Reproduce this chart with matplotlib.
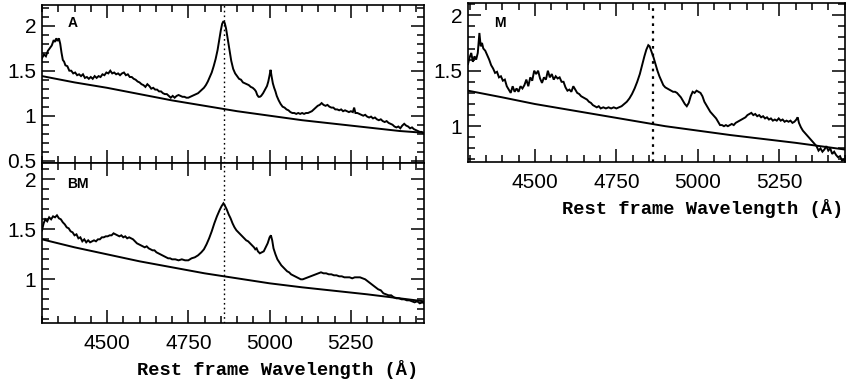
import matplotlib
matplotlib.use("Agg")
import matplotlib.pyplot as plt
from matplotlib.ticker import MultipleLocator

# ---------------- data ----------------
A_wl = [4300, 4306, 4312, 4318, 4324, 4330, 4336, 4340, 4344, 4348, 4352, 4356, 4360, 4364, 4368, 4372,
        4378, 4384, 4390, 4396, 4402, 4408, 4414, 4420, 4426, 4432, 4438, 4444, 4450, 4456, 4462, 4468,
        4474, 4480, 4486, 4492, 4498, 4504, 4510, 4516, 4522, 4528, 4534, 4540, 4546, 4552, 4558, 4564,
        4570, 4576, 4582, 4588, 4594, 4600, 4606, 4612, 4618, 4624, 4630, 4636, 4642, 4648, 4654, 4660,
        4666, 4672, 4678, 4684, 4690, 4696, 4702, 4708, 4714, 4720, 4726, 4732, 4738, 4744, 4750, 4756,
        4762, 4768, 4774, 4780, 4786, 4792, 4798, 4804, 4810, 4816, 4822, 4828, 4834, 4840, 4846, 4850,
        4854, 4858, 4862, 4866, 4870, 4874, 4878, 4882, 4888, 4894, 4900, 4906, 4912, 4918, 4924, 4930,
        4936, 4942, 4948, 4954, 4958, 4962, 4966, 4970, 4974, 4980, 4986, 4992, 4996, 5000, 5003, 5006,
        5010, 5014, 5018, 5022, 5028, 5034, 5040, 5046, 5052, 5058, 5064, 5070, 5076, 5082, 5088, 5094,
        5100, 5106, 5112, 5118, 5124, 5130, 5136, 5142, 5148, 5154, 5160, 5166, 5172, 5178, 5184, 5190,
        5196, 5202, 5208, 5214, 5220, 5226, 5232, 5238, 5244, 5250, 5256, 5260, 5264, 5270, 5276, 5282,
        5288, 5294, 5300, 5306, 5312, 5318, 5324, 5330, 5336, 5342, 5348, 5354, 5360, 5366, 5372, 5378,
        5384, 5390, 5396, 5402, 5408, 5414, 5420, 5426, 5432, 5438, 5444, 5450, 5456, 5462, 5468, 5475]
A_flux = [1.64, 1.68, 1.66, 1.72, 1.75, 1.78, 1.84, 1.82, 1.86, 1.83, 1.86, 1.80, 1.70, 1.62, 1.60, 1.56,
          1.55, 1.50, 1.50, 1.47, 1.48, 1.45, 1.46, 1.44, 1.46, 1.42, 1.43, 1.41, 1.43, 1.41, 1.44, 1.42,
          1.44, 1.43, 1.46, 1.45, 1.48, 1.47, 1.50, 1.47, 1.48, 1.46, 1.47, 1.45, 1.47, 1.48, 1.45, 1.46,
          1.43, 1.43, 1.41, 1.40, 1.38, 1.37, 1.35, 1.34, 1.32, 1.35, 1.33, 1.30, 1.31, 1.29, 1.29, 1.27,
          1.27, 1.25, 1.24, 1.24, 1.22, 1.20, 1.22, 1.20, 1.22, 1.23, 1.22, 1.21, 1.21, 1.20, 1.20, 1.21,
          1.22, 1.23, 1.24, 1.25, 1.27, 1.29, 1.31, 1.34, 1.38, 1.43, 1.48, 1.55, 1.63, 1.73, 1.86, 1.95,
          2.02, 2.05, 2.03, 1.97, 1.88, 1.79, 1.70, 1.61, 1.52, 1.47, 1.44, 1.41, 1.40, 1.37, 1.36, 1.35,
          1.34, 1.32, 1.31, 1.29, 1.27, 1.23, 1.21, 1.21, 1.22, 1.25, 1.29, 1.33, 1.38, 1.45, 1.51, 1.44,
          1.36, 1.31, 1.27, 1.22, 1.17, 1.13, 1.10, 1.09, 1.07, 1.06, 1.04, 1.03, 1.03, 1.02, 1.03, 1.02,
          1.03, 1.02, 1.03, 1.03, 1.04, 1.05, 1.07, 1.09, 1.11, 1.12, 1.14, 1.12, 1.11, 1.12, 1.10, 1.09,
          1.09, 1.07, 1.07, 1.06, 1.07, 1.05, 1.06, 1.05, 1.04, 1.05, 1.04, 1.09, 1.03, 1.03, 1.02, 1.01,
          1.00, 1.01, 0.99, 0.98, 0.99, 0.97, 0.98, 0.96, 0.95, 0.96, 0.94, 0.93, 0.94, 0.92, 0.91, 0.90,
          0.88, 0.87, 0.88, 0.86, 0.89, 0.91, 0.89, 0.88, 0.86, 0.87, 0.85, 0.84, 0.83, 0.82, 0.82, 0.80]
A_cont_wl = [4300, 4400, 4500, 4600, 4700, 4800, 4900, 5000, 5100, 5200, 5300, 5400, 5475]
A_cont = [1.44, 1.37, 1.31, 1.24, 1.17, 1.11, 1.05, 1.00, 0.95, 0.91, 0.87, 0.83, 0.81]

BM_wl = [4300, 4305, 4310, 4316, 4322, 4328, 4334, 4340, 4346, 4352, 4358, 4364, 4370, 4376, 4382, 4388,
         4394, 4400, 4406, 4412, 4418, 4424, 4430, 4436, 4442, 4448, 4454, 4460, 4466, 4472, 4478, 4484,
         4490, 4496, 4502, 4508, 4514, 4520, 4526, 4532, 4538, 4544, 4550, 4556, 4562, 4568, 4574, 4580,
         4586, 4592, 4598, 4604, 4610, 4616, 4622, 4628, 4634, 4640, 4646, 4652, 4658, 4664, 4670, 4676,
         4682, 4688, 4694, 4700, 4710, 4720, 4730, 4740, 4750, 4760, 4770, 4780, 4790, 4798, 4806, 4814,
         4822, 4830, 4838, 4846, 4852, 4858, 4862, 4868, 4874, 4880, 4886, 4892, 4898, 4904, 4910, 4916,
         4922, 4928, 4934, 4940, 4946, 4952, 4956, 4960, 4964, 4970, 4976, 4982, 4988, 4994, 5000, 5004,
         5008, 5012, 5018, 5024, 5030, 5036, 5042, 5048, 5054, 5060, 5066, 5072, 5078, 5084, 5090, 5096,
         5102, 5110, 5118, 5126, 5134, 5142, 5150, 5158, 5166, 5174, 5182, 5190, 5198, 5206, 5214, 5222,
         5230, 5238, 5246, 5254, 5262, 5270, 5278, 5286, 5294, 5302, 5310, 5318, 5326, 5334, 5342, 5350,
         5358, 5366, 5374, 5382, 5390, 5398, 5406, 5414, 5422, 5430, 5438, 5446, 5454, 5462, 5470, 5475]
BM_flux = [1.49, 1.56, 1.60, 1.58, 1.62, 1.60, 1.63, 1.62, 1.64, 1.61, 1.60, 1.57, 1.55, 1.52, 1.51, 1.48,
           1.47, 1.44, 1.45, 1.41, 1.42, 1.38, 1.40, 1.37, 1.39, 1.37, 1.38, 1.39, 1.38, 1.40, 1.40, 1.42,
           1.42, 1.43, 1.43, 1.44, 1.44, 1.46, 1.45, 1.44, 1.43, 1.44, 1.42, 1.43, 1.41, 1.42, 1.41, 1.40,
           1.38, 1.36, 1.35, 1.34, 1.33, 1.32, 1.33, 1.31, 1.30, 1.29, 1.29, 1.27, 1.26, 1.25, 1.24, 1.23,
           1.22, 1.21, 1.21, 1.20, 1.20, 1.19, 1.20, 1.19, 1.19, 1.21, 1.22, 1.24, 1.27, 1.30, 1.35, 1.41,
           1.48, 1.56, 1.63, 1.69, 1.73, 1.76, 1.74, 1.70, 1.65, 1.61, 1.56, 1.52, 1.49, 1.47, 1.45, 1.43,
           1.41, 1.39, 1.38, 1.36, 1.34, 1.32, 1.30, 1.31, 1.28, 1.26, 1.27, 1.28, 1.32, 1.36, 1.42, 1.44,
           1.39, 1.31, 1.25, 1.20, 1.17, 1.14, 1.12, 1.10, 1.08, 1.07, 1.05, 1.04, 1.03, 1.02, 1.01, 1.00,
           1.00, 1.01, 1.02, 1.03, 1.04, 1.05, 1.06, 1.07, 1.06, 1.06, 1.05, 1.05, 1.04, 1.04, 1.03, 1.03,
           1.02, 1.02, 1.02, 1.01, 1.02, 1.02, 1.02, 1.01, 1.00, 0.98, 0.96, 0.94, 0.92, 0.90, 0.89, 0.86,
           0.85, 0.84, 0.84, 0.82, 0.81, 0.81, 0.80, 0.80, 0.79, 0.79, 0.78, 0.77, 0.78, 0.76, 0.77, 0.76]
BM_cont_wl = [4300, 4400, 4500, 4600, 4700, 4800, 4900, 5000, 5100, 5200, 5300, 5400, 5475]
BM_cont = [1.40, 1.32, 1.25, 1.18, 1.12, 1.06, 1.01, 0.96, 0.92, 0.885, 0.85, 0.81, 0.78]

M_wl = [4295, 4300, 4305, 4310, 4315, 4320, 4325, 4330, 4334, 4338, 4342, 4348, 4354, 4360, 4366, 4372,
        4378, 4384, 4390, 4396, 4402, 4408, 4414, 4420, 4426, 4432, 4438, 4444, 4450, 4456, 4462, 4468,
        4474, 4480, 4486, 4492, 4498, 4504, 4510, 4516, 4522, 4528, 4534, 4540, 4546, 4552, 4558, 4564,
        4570, 4576, 4582, 4588, 4594, 4600, 4606, 4612, 4618, 4624, 4630, 4636, 4642, 4648, 4654, 4660,
        4666, 4672, 4678, 4684, 4690, 4696, 4702, 4710, 4718, 4726, 4734, 4742, 4750, 4758, 4766, 4774,
        4782, 4790, 4798, 4806, 4814, 4822, 4830, 4836, 4842, 4848, 4852, 4858, 4864, 4870, 4876, 4882,
        4888, 4894, 4900, 4906, 4912, 4918, 4924, 4930, 4936, 4942, 4948, 4954, 4960, 4966, 4972, 4978,
        4984, 4990, 4996, 5002, 5008, 5014, 5020, 5026, 5032, 5038, 5044, 5050, 5056, 5062, 5068, 5074,
        5080, 5086, 5092, 5098, 5104, 5110, 5116, 5122, 5128, 5134, 5140, 5146, 5152, 5158, 5164, 5170,
        5176, 5182, 5188, 5194, 5200, 5206, 5212, 5218, 5224, 5230, 5236, 5242, 5248, 5254, 5260, 5266,
        5272, 5278, 5284, 5290, 5296, 5302, 5306, 5310, 5316, 5322, 5328, 5334, 5340, 5346, 5352, 5358,
        5364, 5370, 5376, 5382, 5388, 5394, 5400, 5406, 5412, 5418, 5424, 5430, 5436, 5442, 5448, 5452]
M_flux = [1.56, 1.62, 1.66, 1.58, 1.63, 1.60, 1.66, 1.84, 1.72, 1.75, 1.70, 1.68, 1.64, 1.60, 1.55, 1.52,
          1.48, 1.49, 1.44, 1.45, 1.41, 1.42, 1.36, 1.33, 1.30, 1.36, 1.31, 1.34, 1.31, 1.36, 1.34, 1.37,
          1.42, 1.36, 1.44, 1.41, 1.50, 1.47, 1.50, 1.43, 1.39, 1.44, 1.42, 1.50, 1.44, 1.47, 1.42, 1.45,
          1.43, 1.44, 1.40, 1.40, 1.35, 1.32, 1.33, 1.31, 1.36, 1.33, 1.30, 1.29, 1.27, 1.26, 1.25, 1.24,
          1.22, 1.21, 1.19, 1.18, 1.17, 1.18, 1.16, 1.17, 1.16, 1.17, 1.16, 1.17, 1.16, 1.17, 1.18, 1.20,
          1.22, 1.25, 1.29, 1.34, 1.40, 1.47, 1.56, 1.63, 1.69, 1.73, 1.72, 1.67, 1.62, 1.56, 1.50, 1.45,
          1.41, 1.37, 1.35, 1.34, 1.33, 1.32, 1.31, 1.31, 1.30, 1.28, 1.26, 1.23, 1.20, 1.18, 1.21, 1.27,
          1.31, 1.30, 1.32, 1.31, 1.30, 1.27, 1.22, 1.19, 1.16, 1.13, 1.11, 1.09, 1.07, 1.04, 1.01, 1.01,
          1.00, 1.01, 1.00, 1.01, 1.02, 1.01, 1.03, 1.04, 1.05, 1.06, 1.07, 1.08, 1.10, 1.11, 1.12, 1.10,
          1.11, 1.09, 1.10, 1.08, 1.09, 1.07, 1.08, 1.06, 1.07, 1.05, 1.06, 1.05, 1.07, 1.05, 1.06, 1.04,
          1.05, 1.04, 1.05, 1.03, 1.04, 1.06, 1.08, 1.03, 0.99, 0.96, 0.94, 0.92, 0.90, 0.88, 0.86, 0.84,
          0.82, 0.78, 0.80, 0.77, 0.79, 0.82, 0.78, 0.80, 0.75, 0.77, 0.74, 0.72, 0.73, 0.69, 0.70, 0.68]
M_cont_wl = [4295, 4400, 4500, 4600, 4700, 4800, 4900, 5000, 5100, 5200, 5300, 5400, 5450]
M_cont = [1.32, 1.26, 1.20, 1.15, 1.10, 1.05, 1.00, 0.96, 0.92, 0.885, 0.85, 0.81, 0.79]

HBETA = 4861
XLABEL = "Rest frame Wavelength (\u00c5)"

# ---------------- figure ----------------
fig = plt.figure(figsize=(8.52, 3.82), dpi=100)
axA = fig.add_axes([0.0493, 0.5746, 0.4484, 0.4123])
axB = fig.add_axes([0.0493, 0.1552, 0.4484, 0.4188])
axM = fig.add_axes([0.5489, 0.5767, 0.4428, 0.4154])

tickfont = "Liberation Sans"

def style(ax, xlim, ylim, xlabels=True):
    ax.set_xlim(*xlim)
    ax.set_ylim(*ylim)
    ax.xaxis.set_major_locator(MultipleLocator(250))
    ax.xaxis.set_minor_locator(MultipleLocator(50))
    ax.yaxis.set_major_locator(MultipleLocator(0.5))
    ax.yaxis.set_minor_locator(MultipleLocator(0.1))
    ax.tick_params(which="both", direction="in", top=True, right=True, width=1.1, color="black")
    ax.tick_params(which="major", length=9.5)
    ax.tick_params(which="minor", length=5)
    ax.tick_params(axis="x", pad=8, labelsize=15, labelbottom=xlabels)
    ax.tick_params(axis="y", pad=4, labelsize=15)
    for s in ax.spines.values():
        s.set_linewidth(1.2)
    ax.yaxis.set_major_formatter(plt.FuncFormatter(lambda v, p: ("%g" % v)))

def panel(ax, wl, fl, cwl, cf, label, dot_lw, lx, ly):
    ax.plot(wl, fl, color="black", lw=1.4, solid_joinstyle="miter")
    ax.plot(cwl, cf, color="black", lw=1.4)
    ax.axvline(HBETA, color="black", lw=dot_lw, ls=(0, (1.2, 2.2)))
    ax.text(lx, ly, label, transform=ax.transAxes, fontsize=10, fontweight="heavy",
            family=["Liberation Sans"], ha="left", va="center")

panel(axA, A_wl, A_flux, A_cont_wl, A_cont, "A", 1.0, 0.066, 0.885)
panel(axB, BM_wl, BM_flux, BM_cont_wl, BM_cont, "BM", 1.0, 0.066, 0.87)
panel(axM, M_wl, M_flux, M_cont_wl, M_cont, "M", 1.6, 0.07, 0.875)

style(axA, (4300, 5475), (0.48, 2.23), xlabels=False)
style(axB, (4300, 5475), (0.566, 2.166))
style(axM, (4294, 5451), (0.68, 2.11))

for ax in (axA, axB, axM):
    for lab in ax.get_xticklabels() + ax.get_yticklabels():
        lab.set_fontfamily(tickfont)

for ax in (axB, axM):
    ax.set_xlabel(XLABEL, fontfamily="Liberation Mono", fontsize=13.5, fontweight="bold",
                  ha="right")
for ax, xr, yb in ((axB, 0.986, 322.7), (axM, 0.995, 161.7)):
    h = ax.get_position().height * 382
    ax.xaxis.set_label_coords(xr, -(47) / h)
    ax.xaxis.label.set_va("center")

fig.savefig("out.png", dpi=100)
